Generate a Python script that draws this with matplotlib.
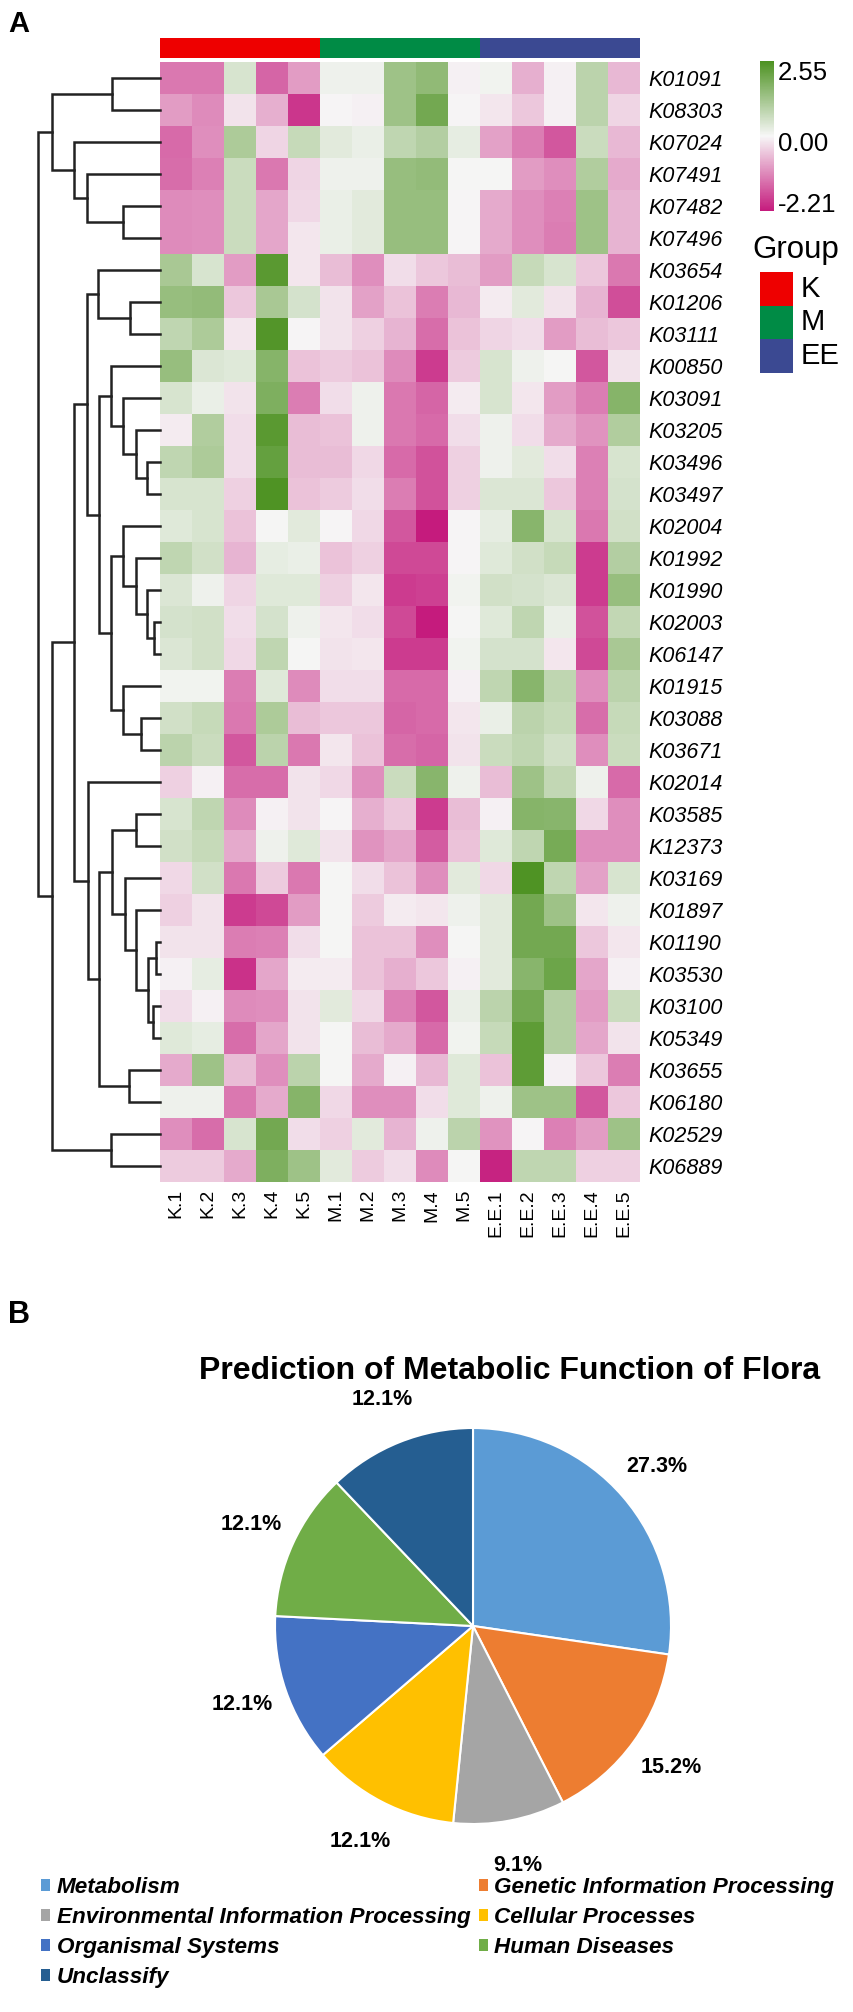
import matplotlib
matplotlib.use('Agg')
import matplotlib.pyplot as plt
import matplotlib.cm as cm
from matplotlib.colors import LinearSegmentedColormap, ListedColormap, Normalize
from matplotlib.patches import Patch
import numpy as np

plt.rcParams['font.family'] = 'Liberation Sans'

W, H = 854, 2012


def box(x0, y0, x1, y1):
    # pixel box (top-left origin) -> figure fraction rect
    return [x0 / W, 1 - y1 / H, (x1 - x0) / W, (y1 - y0) / H]


# --- Data: panel A heatmap ---
samples = ['K.1', 'K.2', 'K.3', 'K.4', 'K.5',
           'M.1', 'M.2', 'M.3', 'M.4', 'M.5',
           'E.E.1', 'E.E.2', 'E.E.3', 'E.E.4', 'E.E.5']
sample_group = [0] * 5 + [1] * 5 + [2] * 5
group_names = ['K', 'M', 'EE']
group_colors = ['#EE0000', '#008B45', '#3B4992']

genes = ['K01091', 'K08303', 'K07024', 'K07491', 'K07482', 'K07496', 'K03654',
         'K01206', 'K03111', 'K00850', 'K03091', 'K03205', 'K03496', 'K03497',
         'K02004', 'K01992', 'K01990', 'K02003', 'K06147', 'K01915', 'K03088',
         'K03671', 'K02014', 'K03585', 'K12373', 'K03169', 'K01897', 'K01190',
         'K03530', 'K03100', 'K05349', 'K03655', 'K06180', 'K02529', 'K06889']

values = [
    [-1.2, -1.2, 0.6, -1.4, -0.8, 0.3, 0.3, 1.4, 1.6, 0.1, 0.25, -0.6, 0.1, 1.0, -0.5],
    [-0.8, -1.0, -0.05, -0.6, -1.9, 0.15, 0.1, 1.4, 2.0, 0.15, 0.0, -0.35, 0.1, 1.0, -0.2],
    [-1.35, -0.95, 1.2, -0.2, 0.85, 0.45, 0.35, 0.95, 1.1, 0.4, -0.75, -1.15, -1.55, 0.8, -0.5],
    [-1.3, -1.1, 0.8, -1.2, -0.2, 0.3, 0.3, 1.5, 1.55, 0.2, 0.2, -0.8, -0.95, 1.15, -0.65],
    [-1.0, -0.95, 0.8, -0.7, -0.15, 0.35, 0.45, 1.5, 1.5, 0.15, -0.65, -0.95, -1.1, 1.4, -0.55],
    [-1.0, -0.95, 0.8, -0.7, 0.0, 0.35, 0.45, 1.5, 1.5, 0.15, -0.65, -0.95, -1.15, 1.4, -0.55],
    [1.25, 0.6, -0.8, 2.35, 0.0, -0.45, -0.95, -0.1, -0.35, -0.45, -0.8, 0.85, 0.6, -0.35, -1.2],
    [1.5, 1.55, -0.35, 1.25, 0.65, -0.05, -0.75, -0.4, -1.15, -0.5, 0.05, 0.45, -0.05, -0.55, -1.65],
    [0.95, 1.2, 0.0, 2.45, 0.15, -0.05, -0.25, -0.55, -1.3, -0.4, -0.2, -0.1, -0.8, -0.45, -0.35],
    [1.5, 0.55, 0.5, 1.75, -0.4, -0.3, -0.4, -1.0, -1.85, -0.3, 0.6, 0.3, 0.2, -1.55, -0.05],
    [0.6, 0.35, -0.05, 1.85, -1.15, -0.1, 0.3, -1.2, -1.4, 0.05, 0.6, 0.0, -0.8, -1.15, 1.75],
    [0.05, 1.15, -0.1, 2.35, -0.45, -0.4, 0.3, -1.2, -1.35, -0.1, 0.3, -0.1, -0.65, -0.9, 1.15],
    [0.95, 1.2, -0.1, 2.2, -0.45, -0.45, -0.15, -1.35, -1.6, -0.25, 0.3, 0.45, -0.1, -1.1, 0.6],
    [0.6, 0.6, -0.25, 2.5, -0.4, -0.3, -0.1, -1.15, -1.6, -0.25, 0.55, 0.55, -0.35, -1.1, 0.65],
    [0.5, 0.6, -0.4, 0.2, 0.45, 0.15, -0.15, -1.55, -2.2, 0.15, 0.4, 1.7, 0.6, -1.2, 0.7],
    [0.95, 0.7, -0.55, 0.4, 0.35, -0.4, -0.25, -1.7, -1.7, 0.15, 0.5, 0.7, 0.85, -1.85, 1.1],
    [0.55, 0.3, -0.2, 0.5, 0.5, -0.25, 0.0, -1.85, -1.8, 0.25, 0.7, 0.65, 0.55, -1.85, 1.5],
    [0.65, 0.7, -0.1, 0.65, 0.3, 0.0, -0.1, -1.7, -2.2, 0.2, 0.5, 0.95, 0.35, -1.6, 0.9],
    [0.55, 0.7, -0.15, 0.95, 0.2, -0.05, 0.0, -1.85, -1.85, 0.25, 0.65, 0.65, 0.0, -1.7, 1.25],
    [0.25, 0.25, -1.15, 0.5, -1.0, -0.1, -0.1, -1.35, -1.35, 0.1, 0.95, 1.7, 0.95, -0.95, 1.0],
    [0.7, 0.85, -1.2, 1.2, -0.45, -0.35, -0.35, -1.4, -1.35, 0.0, 0.35, 1.0, 0.85, -1.3, 0.85],
    [1.0, 0.8, -1.55, 1.0, -1.2, 0.0, -0.4, -1.3, -1.4, -0.05, 0.8, 0.95, 0.7, -0.95, 0.8],
    [-0.25, 0.1, -1.3, -1.3, -0.05, -0.15, -0.95, 0.8, 1.7, 0.3, -0.45, 1.4, 0.9, 0.3, -1.35],
    [0.6, 0.95, -1.0, 0.1, -0.05, 0.15, -0.6, -0.35, -1.85, -0.45, 0.1, 1.75, 1.7, -0.15, -0.95],
    [0.7, 0.85, -0.65, 0.3, 0.5, -0.05, -0.9, -0.7, -1.5, -0.4, 0.5, 0.95, 1.95, -0.95, -0.95],
    [-0.15, 0.7, -1.2, -0.3, -1.2, 0.2, -0.1, -0.4, -0.95, 0.45, -0.15, 2.5, 0.95, -0.75, 0.6],
    [-0.25, -0.05, -1.85, -1.7, -0.8, 0.2, -0.3, 0.05, 0.0, 0.3, 0.45, 2.0, 1.4, 0.0, 0.3],
    [-0.05, -0.05, -1.15, -1.1, -0.1, 0.2, -0.4, -0.4, -0.95, 0.2, 0.45, 2.0, 2.0, -0.35, 0.0],
    [0.1, 0.4, -1.95, -0.7, 0.05, 0.05, -0.4, -0.6, -0.35, 0.1, 0.45, 1.7, 2.1, -0.7, 0.1],
    [-0.1, 0.1, -1.0, -0.95, -0.05, 0.45, -0.15, -1.1, -1.55, 0.35, 1.0, 2.0, 1.1, -0.8, 0.8],
    [0.5, 0.4, -1.3, -0.7, -0.05, 0.2, -0.45, -0.65, -1.35, 0.25, 0.85, 2.3, 1.1, -0.7, -0.05],
    [-0.65, 1.4, -0.45, -0.95, 1.0, 0.2, -0.65, 0.1, -0.5, 0.5, -0.4, 2.3, 0.1, -0.35, -1.15],
    [0.3, 0.3, -1.2, -0.65, 1.75, -0.15, -0.95, -0.95, -0.1, 0.5, 0.3, 1.4, 1.4, -1.55, -0.35],
    [-0.95, -1.3, 0.6, 2.0, -0.1, -0.25, 0.45, -0.55, 0.3, 1.0, -0.9, 0.15, -1.1, -0.8, 1.4],
    [-0.3, -0.3, -0.65, 1.85, 1.4, 0.45, -0.3, -0.1, -1.0, 0.2, -2.1, 0.95, 0.95, -0.25, -0.25],
]

scale_min, scale_max = -2.21, 2.55
scale_ticks = [2.55, 0.00, -2.21]

# row dendrogram, linkage style: (child a, child b, height); ids >= 35 are earlier merges
merges = [
    (4, 5, 110), (3, 35, 218), (2, 36, 258), (0, 1, 143), (38, 37, 323),
    (7, 8, 90), (6, 40, 185),
    (12, 13, 38), (11, 42, 73), (10, 43, 110), (9, 44, 148),
    (17, 18, 18), (16, 46, 38), (15, 47, 73), (14, 48, 110),
    (20, 21, 56), (19, 50, 110), (49, 51, 148), (45, 52, 183), (41, 53, 218),
    (27, 28, 12), (29, 30, 21), (55, 56, 37), (26, 57, 73), (25, 58, 106),
    (23, 24, 73), (60, 59, 143), (31, 32, 94), (61, 62, 184), (22, 63, 217),
    (54, 64, 258), (33, 34, 146), (65, 66, 323), (39, 67, 366),
]

# --- Data: panel B pie ---
pie_labels = ['Metabolism', 'Genetic Information Processing',
              'Environmental Information Processing', 'Cellular Processes',
              'Organismal Systems', 'Human Diseases', 'Unclassify']
pie_share = [27.3, 15.2, 9.1, 12.1, 12.1, 12.1, 12.1]
pie_colors = ['#5B9BD5', '#ED7D31', '#A5A5A5', '#FFC000', '#4472C4', '#70AD47', '#255E91']

fig = plt.figure(figsize=(W / 100, H / 100), dpi=100)
fig.patch.set_facecolor('white')

cmap = LinearSegmentedColormap.from_list('pg', ['#C51B7D', '#F7F7F7', '#4D9221'])
norm = Normalize(vmin=scale_min, vmax=scale_max)
n_rows, n_cols = len(genes), len(samples)

# heatmap
ax = fig.add_axes(box(160, 62, 640, 1182))
ax.imshow(np.array(values), cmap=cmap, norm=norm, aspect='auto', interpolation='nearest',
          extent=(0, n_cols, n_rows, 0))
ax.set_xticks(np.arange(n_cols) + 0.5)
ax.set_xticklabels(samples, rotation=90, fontsize=14)
ax.set_yticks(np.arange(n_rows) + 0.5)
ax.set_yticklabels(genes, fontsize=15.5, fontstyle='italic')
ax.yaxis.tick_right()
ax.tick_params(axis='both', length=0)
ax.tick_params(axis='y', pad=6)
ax.tick_params(axis='x', pad=5)
for s in ax.spines.values():
    s.set_visible(False)

# group annotation bar
gax = fig.add_axes(box(160, 38, 640, 58))
gax.imshow(np.array([sample_group]), cmap=ListedColormap(group_colors), vmin=-0.5, vmax=2.5,
           aspect='auto', interpolation='nearest', extent=(0, n_cols, 1, 0))
gax.axis('off')

# dendrogram
dax = fig.add_axes(box(38, 62, 160, 1182))
pos = {i: (0.0, i + 0.5) for i in range(n_rows)}
for k, (a, b, h) in enumerate(merges):
    ha_, ya = pos[a]
    hb, yb = pos[b]
    dax.plot([ha_, h, h, hb], [ya, ya, yb, yb], color='#222222', lw=1.8,
             solid_joinstyle='miter', clip_on=False)
    pos[n_rows + k] = (h, (ya + yb) / 2)
dax.set_xlim(merges[-1][2], 0)
dax.set_ylim(n_rows, 0)
dax.axis('off')

# colour scale legend
cax = fig.add_axes(box(760, 61, 774, 211))
cb = fig.colorbar(cm.ScalarMappable(norm=norm, cmap=cmap), cax=cax)
cb.outline.set_visible(False)
cb.set_ticks([])
for v in scale_ticks:
    frac = (v - scale_min) / (scale_max - scale_min)
    cax.text(1.3, 0.04 + 0.88 * frac, f'{v:.2f}', transform=cax.transAxes,
             ha='left', va='center', fontsize=18.5)

# group legend
fig.text(752 / W, 1 - 250 / H, 'Group', ha='left', va='center', fontsize=22.5)
lax = fig.add_axes(box(760, 272, 793, 373))
lax.imshow(np.arange(len(group_names)).reshape(-1, 1), cmap=ListedColormap(group_colors),
           vmin=-0.5, vmax=2.5, aspect='auto', interpolation='nearest',
           extent=(0, 1, len(group_names), 0))
for i, name in enumerate(group_names):
    lax.text(1.22, i + 0.5, name, ha='left', va='center', fontsize=21, clip_on=False)
lax.axis('off')

# panel letters
fig.text(8 / W, 1 - 10 / H, 'A', ha='left', va='top', fontsize=21, fontweight='bold')
fig.text(8 / W, 1 - 1300 / H, 'B', ha='left', va='top', fontsize=22, fontweight='bold')

# pie
pax = fig.add_axes(box(275, 1428, 671, 1824))
wedges, _, autotexts = pax.pie(pie_share, colors=pie_colors, startangle=90, counterclock=False,
                               autopct='%.1f%%', pctdistance=1.23,
                               wedgeprops=dict(edgecolor='white', linewidth=1.5),
                               textprops=dict(fontsize=15.5, fontweight='bold'))
pax.set_xlim(-1, 1)
pax.set_ylim(-1, 1)
pax.set_aspect('equal')

fig.text(510 / W, 1 - 1371 / H, 'Prediction of Metabolic Function of Flora',
         ha='center', va='center', fontsize=23, fontweight='bold')

# legend in row-major order
order = [0, 2, 4, 6, 1, 3, 5]
handles = [Patch(facecolor=pie_colors[i], edgecolor='none') for i in order]
fig.legend(handles, [pie_labels[i] for i in order], ncol=2, loc='upper left',
           bbox_to_anchor=(41 / W, 1 - 1877 / H), frameon=False, borderpad=0,
           borderaxespad=0, handlelength=0.4, handleheight=0.4, handletextpad=0.3,
           columnspacing=0.36, labelspacing=0.4,
           prop=dict(family='Liberation Sans', weight='bold', style='italic', size=16.2))

fig.savefig('out.png', dpi=100)
